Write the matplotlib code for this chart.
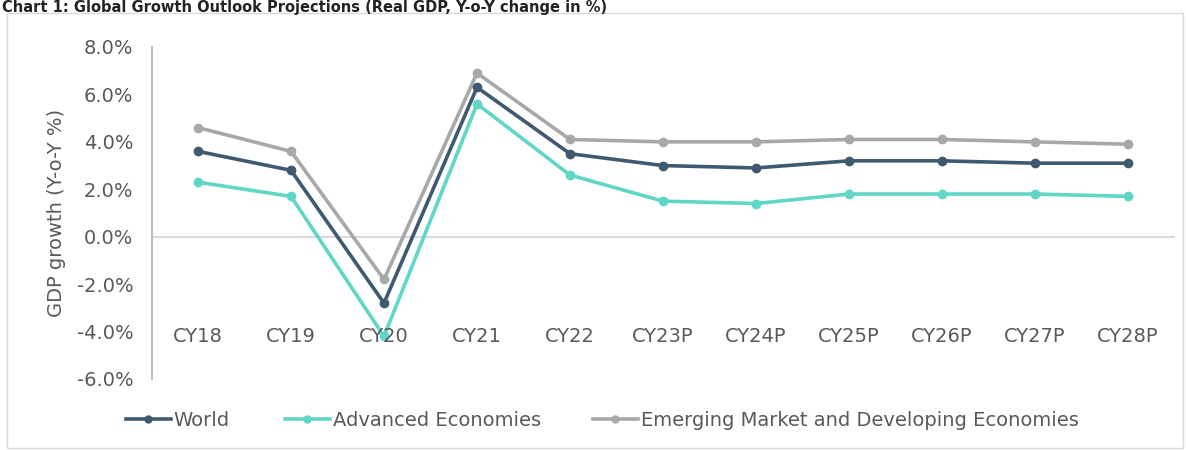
import matplotlib.pyplot as plt
from matplotlib.patches import Rectangle

# data
years = ['CY18', 'CY19', 'CY20', 'CY21', 'CY22', 'CY23P', 'CY24P', 'CY25P', 'CY26P', 'CY27P', 'CY28P']
world = [3.6, 2.8, -2.8, 6.3, 3.5, 3.0, 2.9, 3.2, 3.2, 3.1, 3.1]
advanced = [2.3, 1.7, -4.2, 5.6, 2.6, 1.5, 1.4, 1.8, 1.8, 1.8, 1.7]
emerging = [4.6, 3.6, -1.8, 6.9, 4.1, 4.0, 4.0, 4.1, 4.1, 4.0, 3.9]
yticks = [-6, -4, -2, 0, 2, 4, 6, 8]

c_world = '#3f5a70'
c_adv = '#5fd6c6'
c_emd = '#a8a8a8'
txt = '#595959'
fs = 14

fig = plt.figure(figsize=(11.86, 4.5), dpi=100)

# outer frame and title
fig.patches.append(Rectangle((7/1186, 2/450), 1176/1186, 435/450, transform=fig.transFigure,
                             fill=False, edgecolor='#d9d9d9', lw=1))
fig.text(2/1186, 1.0, 'Chart 1: Global Growth Outlook Projections (Real GDP, Y-o-Y change in %)',
         fontsize=10.5, fontweight='bold', color='#222222', va='top', ha='left')

ax = fig.add_axes([151.5/1186, 1 - 379/450, 1023/1186, 332/450])
x = list(range(len(years)))

ax.axhline(0, color='#d9d9d9', lw=1.5, zorder=1)
l1, = ax.plot(x, world, color=c_world, lw=2.6, marker='o', ms=6, zorder=4)
l2, = ax.plot(x, advanced, color=c_adv, lw=2.6, marker='o', ms=6, zorder=3)
l3, = ax.plot(x, emerging, color=c_emd, lw=2.6, marker='o', ms=6, zorder=2)

ax.set_xlim(-0.5, len(years) - 0.5)
ax.set_ylim(-6, 8)
ax.set_yticks(yticks)
ax.set_yticklabels(['%.1f%%' % v for v in yticks], fontsize=fs, color=txt)
ax.tick_params(axis='y', length=0, pad=13)
ax.set_xticks([])
for i, lab in enumerate(years):
    ax.text(i, -4.2, lab, ha='center', va='center', fontsize=fs, color=txt)

for s in ['top', 'right', 'bottom']:
    ax.spines[s].set_visible(False)
ax.spines['left'].set_color('#bfbfbf')
ax.spines['left'].set_linewidth(1.5)

ax.set_ylabel('GDP growth (Y-o-Y %)', fontsize=fs, color=txt, labelpad=8)

# legend entries laid out one by one, like the source
entries = [(l1, 'World', 126), (l2, 'Advanced Economies', 285),
           (l3, 'Emerging Market and Developing Economies', 593)]
for h, lab, px in entries:
    lg = fig.legend([h], [lab], loc='center left', bbox_to_anchor=(px/1186, 1 - 420/450),
                    frameon=False, fontsize=fs, handlelength=2.3, handletextpad=0.15,
                    borderaxespad=0, borderpad=0, labelcolor=txt)
    for lh in lg.legend_handles:
        lh.set_markersize(5)

plt.savefig('out.png', dpi=100)
